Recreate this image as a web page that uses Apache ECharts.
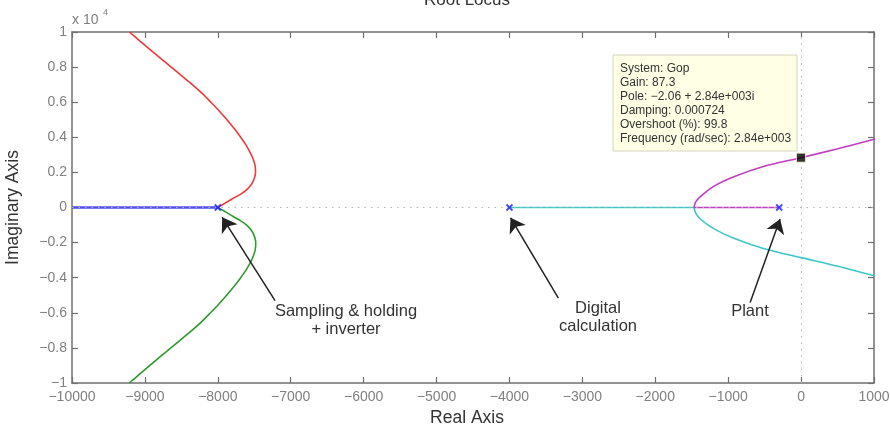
<!DOCTYPE html>
<html>
<head>
<meta charset="utf-8">
<script src="https://cdn.jsdelivr.net/npm/echarts@6/dist/echarts.min.js"></script>
<style>
  html, body { margin: 0; padding: 0; background: #fff; }
  #chart { width: 890px; height: 428px; }
</style>
</head>
<body>
<div id="chart"></div>
<script>
//----------------------Data----------------------
// real part, imaginary part (rad/sec)
let blue_real = [[-10000, 0], [-8000, 0]];
let red_branch = [[-8000, 0], [-7900, 250], [-7800, 500], [-7690, 750], [-7605, 1000], [-7550, 1250],
    [-7515, 1500], [-7493, 1750], [-7483, 2000], [-7485, 2250], [-7495, 2500], [-7515, 2750], [-7540, 3000],
    [-7605, 3500], [-7686, 4000], [-7775, 4500], [-7875, 5000], [-7980, 5500], [-8095, 6000], [-8215, 6500],
    [-8350, 7000], [-8495, 7500], [-8640, 8000], [-8785, 8500], [-8930, 9000], [-9072, 9500], [-9214, 10000]];
let green_branch = [[-8000, 0], [-7895, -250], [-7795, -500], [-7690, -750], [-7605, -1000], [-7548, -1250],
    [-7512, -1500], [-7490, -1750], [-7480, -2000], [-7482, -2250], [-7492, -2500], [-7512, -2750], [-7537, -3000],
    [-7603, -3500], [-7686, -4000], [-7778, -4500], [-7880, -5000], [-7985, -5500], [-8100, -6000], [-8220, -6500],
    [-8355, -7000], [-8500, -7500], [-8645, -8000], [-8790, -8500], [-8933, -9000], [-9074, -9500], [-9214, -10000]];
let cyan_real = [[-4000, 0], [-1468, 0]];
let cyan_branch = [[-1468, 0], [-1449, -290], [-1386, -640], [-1205, -1190], [-931, -1740], [-517, -2335],
    [0, -2857], [490, -3335], [1015, -3905]];
let magenta_real = [[-300, 0], [-1468, 0]];
let magenta_branch = [[-1468, 0], [-1449, 290], [-1386, 600], [-1205, 1190], [-931, 1740], [-517, 2335],
    [-2.06, 2840], [490, 3335], [1015, 3905]];
let poles = [[-8000, 0], [-4000, 0], [-300, 0]];
let selected_pole = [[-2.06, 2840]];
// annotation arrows: [tail, head]
let arrows = [
    [[-7215, -5310], [-7940, -560]],
    [[-3329, -5160], [-3985, -590]],
    [[-699, -5410], [-288, -650]]
];
let x_ticks = {min: -10000, max: 1000, interval: 1000};
let y_ticks = {min: -10000, max: 10000, interval: 2000};
let datatip_lines = [
    "System: Gop",
    "Gain: 87.3",
    "Pole: \u22122.06 + 2.84e+003i",
    "Damping: 0.000724",
    "Overshoot (%): 99.8",
    "Frequency (rad/sec): 2.84e+003"
];
//-------------------------------------------------
let font_family = "'Liberation Sans', Arial, sans-serif";
let axis_color = "#707070";
let label_color = "#808080";

let chart = echarts.init(document.getElementById("chart"), null, {renderer: "canvas"});

function minus(v) {
    return String(v).replace("-", "\u2212");
}

let x_axis_base = {
    type: "value",
    min: x_ticks.min, max: x_ticks.max, interval: x_ticks.interval,
    splitLine: {show: false},
    axisLine: {onZero: false, lineStyle: {color: axis_color, width: 1.5}},
    axisTick: {inside: true, length: 6, lineStyle: {color: axis_color, width: 1.2}},
};
let y_axis_base = {
    type: "value",
    min: y_ticks.min, max: y_ticks.max, interval: y_ticks.interval,
    splitLine: {show: false},
    axisLine: {onZero: false, lineStyle: {color: axis_color, width: 1.5}},
    axisTick: {inside: true, length: 6, lineStyle: {color: axis_color, width: 1.2}},
};

function locus(data, color, smooth) {
    return {
        type: "line", data: data, showSymbol: false, smooth: smooth, silent: true,
        lineStyle: {color: color, width: 1.6}, z: 3
    };
}

let series_list = [
    {
        type: "line", data: blue_real, showSymbol: false, silent: true,
        lineStyle: {color: "#4f4ff5", width: 2.6}, z: 3,
        markLine: {
            silent: true, symbol: "none", label: {show: false},
            lineStyle: {color: "#b4b4b4", type: [1.5, 5], width: 1},
            data: [{yAxis: 0}, {xAxis: 0}]
        }
    },
    locus(red_branch, "#f03a3a", 0.3),
    locus(green_branch, "#2d9a2d", 0.3),
    locus(cyan_real, "#3cc8c8", false),
    locus(cyan_branch, "#3cc8c8", 0.3),
    locus(magenta_real, "#c33cc3", false),
    locus(magenta_branch, "#c33cc3", 0.3),
    {
        type: "scatter", data: poles, silent: true, z: 5,
        symbol: "path://M0,0L10,10M10,0L0,10", symbolSize: 6,
        itemStyle: {color: "transparent", borderColor: "#1c1cff", borderWidth: 1.8}
    },
    {
        type: "scatter", data: selected_pole, silent: true, z: 6,
        symbol: "rect", symbolSize: 9,
        itemStyle: {color: "#000", borderColor: "#f4f4d0", borderWidth: 1}
    },
    {
        type: "lines", coordinateSystem: "cartesian2d", silent: true, z: 6,
        symbol: ["none", "arrow"], symbolSize: 14,
        lineStyle: {color: "#222", width: 1.5, opacity: 1},
        data: arrows.map(function (a) { return {coords: a}; })
    }
];

let tip_children = [{
    type: "rect",
    shape: {x: 0, y: 0, width: 184, height: 96},
    style: {fill: "#ffffe6", stroke: "#d4d4c0", lineWidth: 1}
}, {
    type: "text", x: 7, y: 7,
    style: {
        text: datatip_lines.join("\n"), font: "12px " + font_family,
        fill: "#333", lineHeight: 14
    }
}];

let graphic_list = [
    {
        type: "text", x: 467, y: 9,
        style: {text: "Root Locus", font: "17px " + font_family, fill: "#333",
            textAlign: "center", textVerticalAlign: "bottom"}
    },
    {
        type: "text", x: 72, y: 13,
        style: {text: "x 10", font: "14px " + font_family, fill: label_color}
    },
    {
        type: "text", x: 103, y: 8,
        style: {text: "4", font: "9px " + font_family, fill: label_color}
    },
    {
        type: "group", x: 613, y: 55, children: tip_children
    },
    {
        type: "text", x: 346, y: 302,
        style: {text: "Sampling & holding\n+ inverter", font: "16.5px " + font_family, fill: "#333",
            textAlign: "center", lineHeight: 18.5}
    },
    {
        type: "text", x: 598, y: 299,
        style: {text: "Digital\ncalculation", font: "16.5px " + font_family, fill: "#333",
            textAlign: "center", lineHeight: 18.5}
    },
    {
        type: "text", x: 750, y: 302,
        style: {text: "Plant", font: "16.5px " + font_family, fill: "#333",
            textAlign: "center", lineHeight: 18.5}
    }
];

let option = {
    backgroundColor: "#fff",
    animation: false,
    textStyle: {fontFamily: font_family},
    grid: {left: 72, right: 16, top: 32, bottom: 45, containLabel: false, outerBoundsMode: "none"},
    xAxis: [
        Object.assign({}, x_axis_base, {
            position: "bottom",
            name: "Real Axis", nameLocation: "middle", nameGap: 24,
            nameTextStyle: {fontSize: 17.5, color: "#333", padding: [0, 12, 0, 0]},
            axisLabel: {color: label_color, fontSize: 14, margin: 7, formatter: minus}
        }),
        Object.assign({}, x_axis_base, {position: "top", axisLabel: {show: false}})
    ],
    yAxis: [
        Object.assign({}, y_axis_base, {
            position: "left",
            name: "Imaginary Axis", nameLocation: "middle", nameGap: 50,
            nameTextStyle: {fontSize: 17.5, color: "#333"},
            axisLabel: {color: label_color, fontSize: 14, margin: 5,
                formatter: function (v) { return minus(Math.round(v / 1000) / 10); }}
        }),
        Object.assign({}, y_axis_base, {position: "right", axisLabel: {show: false}})
    ],
    series: series_list,
    graphic: graphic_list
};
chart.setOption(option);
</script>
</body>
</html>
